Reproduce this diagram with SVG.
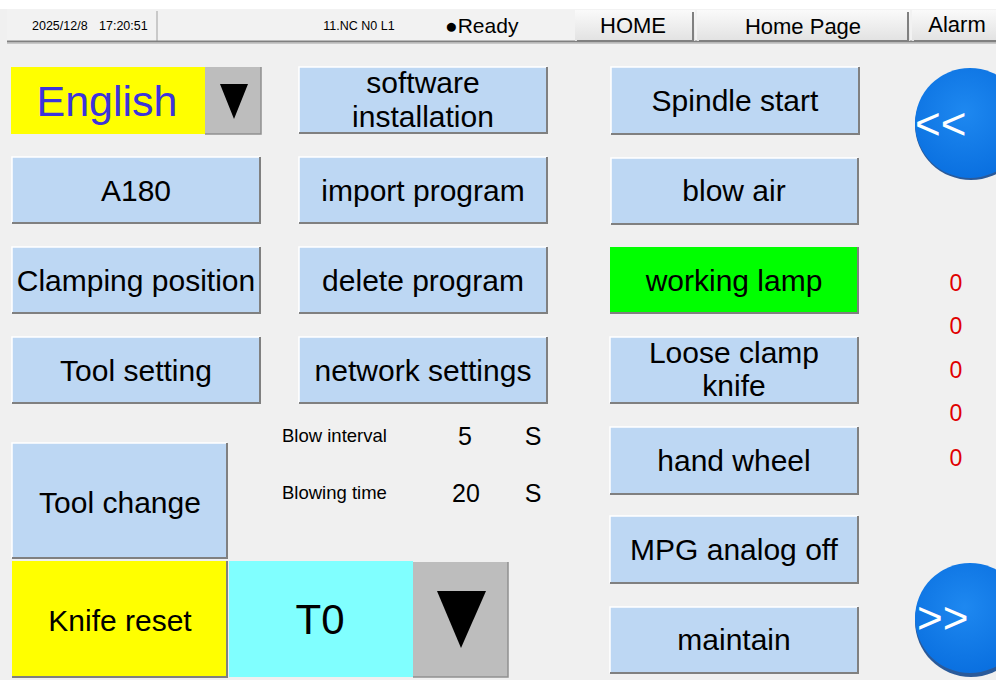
<svg xmlns="http://www.w3.org/2000/svg" width="996" height="680" viewBox="0 0 996 680">
<defs>
<style>
text{font-family:"Liberation Sans",Arial,sans-serif;fill:#000}
.btn{fill:#bdd7f3}
.hl{stroke:#ffffff;stroke-width:1.5;fill:none}
.sh{stroke:#808080;stroke-width:2;fill:none}
.bt{font-size:30px;text-anchor:middle}
.tt{font-size:22px;text-anchor:middle}
.small{font-size:12.5px}
.red{font-size:23px;fill:#e00000;text-anchor:middle}
.lbl{font-size:18.5px}
.val{font-size:25px;text-anchor:middle}
</style>
<linearGradient id="tg" x1="0" y1="0" x2="0" y2="1"><stop offset="0" stop-color="#fafafa"/><stop offset="1" stop-color="#e2e2e2"/></linearGradient>
<radialGradient id="cg" cx="0.45" cy="0.4" r="0.6"><stop offset="0" stop-color="#1e88f0"/><stop offset="1" stop-color="#0a70e0"/></radialGradient>
</defs>
<rect width="996" height="680" fill="#f0f0f0"/>
<rect width="996" height="9" fill="#ffffff"/>
<g id="topbar">
<rect x="7" y="9" width="989" height="32" fill="#f2f2f2"/>
<line x1="157" y1="11" x2="157" y2="41" stroke="#a0a0a0"/>
<line x1="7" y1="41.5" x2="996" y2="41.5" stroke="#808080" stroke-width="2"/>
<line x1="7" y1="43.5" x2="996" y2="43.5" stroke="#c8c8c8" stroke-width="1"/>
<text x="32" y="30" class="small">2025/12/8</text>
<text x="99" y="30" class="small">17:20:51</text>
<text x="359" y="30" class="small" text-anchor="middle">11.NC N0 L1</text>
<text x="445" y="33" font-size="21">●Ready</text>
</g>
<g id="btn-home">
<rect x="575" y="10" width="120" height="31" fill="url(#tg)"/>
<polyline points="577,41 693,41 693,12" class="sh"/>
<text x="633" y="33" class="tt">HOME</text>
</g>
<g id="btn-homepage">
<rect x="697" y="10" width="213" height="31" fill="url(#tg)"/>
<polyline points="699,41 908,41 908,12" class="sh"/>
<text x="803" y="34" class="tt" font-size="23">Home Page</text>
</g>
<g id="btn-alarm">
<rect x="912" y="10" width="84" height="31" fill="url(#tg)"/>
<polyline points="914,41 996,41" class="sh"/>
<text x="957" y="32" class="tt" font-size="20">Alarm</text>
</g>
<g id="lang">
<rect x="11" y="67" width="194" height="67" fill="#ffff00"/>
<text x="107" y="116" font-size="43" text-anchor="middle" style="fill:#3c34dc">English</text>
<rect x="205" y="67" width="56" height="67" fill="#bdbdbd"/>
<polyline points="205,134 261,134 261,67" stroke="#909090" stroke-width="1.5" fill="none"/>
<polygon points="220,84 248,84 234,119" fill="#000"/>
</g>
<g id="btn-software">
<rect x="299" y="67" width="248" height="66" class="btn"/>
<polyline points="299,133 299,67 547,67" class="hl"/>
<polyline points="299,133 547,133 547,67" class="sh"/>
<text x="423" y="93" class="bt">software</text>
<text x="423" y="127" class="bt">installation</text>
</g>
<g id="btn-a180">
<rect x="12" y="157" width="248" height="66" class="btn"/>
<polyline points="12,223 12,157 260,157" class="hl"/>
<polyline points="12,223 260,223 260,157" class="sh"/>
<text x="136" y="201" class="bt">A180</text>
</g>
<g id="btn-import">
<rect x="299" y="157" width="248" height="66" class="btn"/>
<polyline points="299,223 299,157 547,157" class="hl"/>
<polyline points="299,223 547,223 547,157" class="sh"/>
<text x="423" y="201" class="bt">import program</text>
</g>
<g id="btn-clamping">
<rect x="12" y="247" width="248" height="66" class="btn"/>
<polyline points="12,313 12,247 260,247" class="hl"/>
<polyline points="12,313 260,313 260,247" class="sh"/>
<text x="136" y="291" class="bt">Clamping position</text>
</g>
<g id="btn-delete">
<rect x="299" y="247" width="248" height="66" class="btn"/>
<polyline points="299,313 299,247 547,247" class="hl"/>
<polyline points="299,313 547,313 547,247" class="sh"/>
<text x="423" y="291" class="bt">delete program</text>
</g>
<g id="btn-toolsetting">
<rect x="12" y="337" width="248" height="66" class="btn"/>
<polyline points="12,403 12,337 260,337" class="hl"/>
<polyline points="12,403 260,403 260,337" class="sh"/>
<text x="136" y="381" class="bt">Tool setting</text>
</g>
<g id="btn-network">
<rect x="299" y="337" width="248" height="66" class="btn"/>
<polyline points="299,403 299,337 547,337" class="hl"/>
<polyline points="299,403 547,403 547,337" class="sh"/>
<text x="423" y="381" class="bt">network settings</text>
</g>
<g id="blow">
<text x="282" y="442" class="lbl">Blow interval</text>
<text x="465" y="445" class="val">5</text>
<text x="533" y="445" class="val">S</text>
<text x="282" y="499" class="lbl">Blowing time</text>
<text x="466" y="502" class="val">20</text>
<text x="533" y="502" class="val">S</text>
</g>
<g id="btn-toolchange">
<rect x="12" y="443" width="215" height="115" class="btn"/>
<polyline points="12,558 12,443 227,443" class="hl"/>
<polyline points="12,558 227,558 227,443" class="sh"/>
<text x="120" y="513" class="bt" font-size="31.5">Tool change</text>
</g>
<g id="btn-knifereset">
<rect x="12" y="561" width="215" height="116" fill="#ffff00"/>
<polyline points="12,677 227,677 227,561" class="sh"/>
<text x="120" y="631" class="bt" font-size="30.5">Knife reset</text>
</g>
<g id="tool-select">
<rect x="229" y="561" width="184" height="116" fill="#80ffff"/>
<text x="320" y="634" font-size="42" text-anchor="middle">T0</text>
<rect x="413" y="562" width="95" height="115" fill="#bdbdbd"/>
<polyline points="413,677 508,677 508,562" stroke="#909090" stroke-width="1.5" fill="none"/>
<polygon points="437,591 486,591 461,648" fill="#000"/>
</g>
<g id="btn-spindle">
<rect x="611" y="67" width="248" height="67" class="btn"/>
<polyline points="611,134 611,67 859,67" class="hl"/>
<polyline points="611,134 859,134 859,67" class="sh"/>
<text x="735" y="111" class="bt">Spindle start</text>
</g>
<g id="btn-blowair">
<rect x="611" y="158" width="247" height="66" class="btn"/>
<polyline points="611,224 611,158 858,158" class="hl"/>
<polyline points="611,224 858,224 858,158" class="sh"/>
<text x="734" y="201" class="bt">blow air</text>
</g>
<g id="btn-lamp">
<rect x="610" y="247" width="248" height="66" fill="#00ff00"/>
<polyline points="610,313 858,313 858,247" class="sh"/>
<text x="734" y="291" class="bt">working lamp</text>
</g>
<g id="btn-loose">
<rect x="610" y="337" width="248" height="66" class="btn"/>
<polyline points="610,403 610,337 858,337" class="hl"/>
<polyline points="610,403 858,403 858,337" class="sh"/>
<text x="734" y="363" class="bt">Loose clamp</text>
<text x="734" y="396" class="bt">knife</text>
</g>
<g id="btn-handwheel">
<rect x="610" y="427" width="248" height="67" class="btn"/>
<polyline points="610,494 610,427 858,427" class="hl"/>
<polyline points="610,494 858,494 858,427" class="sh"/>
<text x="734" y="471" class="bt">hand wheel</text>
</g>
<g id="btn-mpg">
<rect x="610" y="516" width="248" height="67" class="btn"/>
<polyline points="610,583 610,516 858,516" class="hl"/>
<polyline points="610,583 858,583 858,516" class="sh"/>
<text x="734" y="560" class="bt">MPG analog off</text>
</g>
<g id="btn-maintain">
<rect x="610" y="607" width="248" height="66" class="btn"/>
<polyline points="610,673 610,607 858,607" class="hl"/>
<polyline points="610,673 858,673 858,607" class="sh"/>
<text x="734" y="650" class="bt">maintain</text>
</g>
<g id="counters">
<text x="956" y="291" class="red">0</text>
<text x="956" y="334" class="red">0</text>
<text x="956" y="378" class="red">0</text>
<text x="956" y="421" class="red">0</text>
<text x="956" y="466" class="red">0</text>
</g>
<g id="btn-prev">
<ellipse cx="971" cy="125" rx="56" ry="55" fill="#2a5a9a"/>
<ellipse cx="970" cy="123" rx="55" ry="55" fill="url(#cg)"/>
<text x="915" y="139" font-size="44" style="fill:#ffffff">&lt;&lt;</text>
</g>
<g id="btn-next">
<ellipse cx="971" cy="621" rx="56" ry="56" fill="#2a5a9a"/>
<ellipse cx="970" cy="618" rx="55" ry="55" fill="url(#cg)"/>
<text x="917" y="633" font-size="44" style="fill:#ffffff">&gt;&gt;</text>
</g>
</svg>
